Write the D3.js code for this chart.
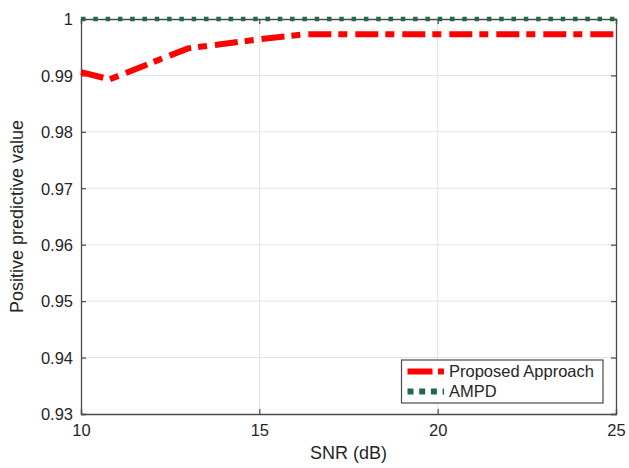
<!DOCTYPE html>
<html>
<head>
<meta charset="utf-8">
<script src="https://cdn.jsdelivr.net/npm/d3@7"></script>
<style>
  body { margin: 0; background: #fff; }
  text { font-family: "Liberation Sans", Arial, sans-serif; fill: #262626; }
</style>
</head>
<body>
<div id="chart"></div>
<script>
const snrProposed = [10, 10.8, 13, 15, 16.3, 25];
const ppvProposed = [0.9906, 0.9893, 0.9948, 0.9964, 0.9973, 0.9973];
const snrAmpd = [10, 25];
const ppvAmpd = [1, 1];
const xTicks = [10, 15, 20, 25];
const yTicks = [0.93, 0.94, 0.95, 0.96, 0.97, 0.98, 0.99, 1];
const seriesNames = ['Proposed Approach', 'AMPD'];

const width = 629;
const height = 468;
const margin = {top: 19, right: 13, bottom: 54, left: 81};

const xScale = d3.scaleLinear().domain([10, 25]).range([margin.left, width - margin.right]);
const yScale = d3.scaleLinear().domain([0.93, 1]).range([height - margin.bottom, margin.top]);

const svg = d3.select('#chart').append('svg')
  .attr('width', width)
  .attr('height', height);

// grid
svg.append('g').selectAll('line').data(xTicks.slice(1, -1))
  .enter().append('line')
  .attr('x1', d => xScale(d)).attr('x2', d => xScale(d))
  .attr('y1', margin.top).attr('y2', height - margin.bottom)
  .attr('stroke', '#e3e3e3').attr('stroke-width', 1);
svg.append('g').selectAll('line').data(yTicks.slice(1, -1))
  .enter().append('line')
  .attr('y1', d => yScale(d)).attr('y2', d => yScale(d))
  .attr('x1', margin.left).attr('x2', width - margin.right)
  .attr('stroke', '#e3e3e3').attr('stroke-width', 1);

// axes, ticks point inward
const axisColor = '#4a4a4a';
svg.append('g')
  .attr('transform', `translate(0,${height - margin.bottom})`)
  .call(d3.axisBottom(xScale).tickValues(xTicks).tickSize(-5).tickPadding(10).tickFormat(d3.format('d')));
const yAxis = svg.append('g')
  .attr('transform', `translate(${margin.left},0)`)
  .call(d3.axisLeft(yScale).tickValues(yTicks).tickSize(-5).tickPadding(8).tickFormat(d => d === 1 ? '1' : d3.format('.2f')(d)));
svg.append('g')
  .attr('transform', `translate(0,${margin.top})`)
  .call(d3.axisTop(xScale).tickValues(xTicks).tickSize(-5).tickFormat(''));
svg.append('g')
  .attr('transform', `translate(${width - margin.right},0)`)
  .call(d3.axisRight(yScale).tickValues(yTicks).tickSize(-5).tickFormat(''));

svg.selectAll('.domain').attr('stroke', axisColor).attr('stroke-width', 1.3);
svg.selectAll('.tick line').attr('stroke', axisColor).attr('stroke-width', 1.2);
svg.selectAll('.tick text').style('font-size', '16.5px').attr('fill', '#262626');
yAxis.selectAll('.tick text').attr('dy', '0.35em');

// lines
const line = d3.line().x(d => xScale(d[0])).y(d => yScale(d[1]));
const proposed = snrProposed.map((s, i) => [s, ppvProposed[i]]);
const ampd = snrAmpd.map((s, i) => [s, ppvAmpd[i]]);

svg.append('path').datum(proposed)
  .attr('d', line)
  .attr('fill', 'none')
  .attr('stroke', '#ff0000')
  .attr('stroke-width', 6)
  .attr('stroke-dasharray', '23 7 9 8');

svg.append('path').datum(ampd)
  .attr('d', line)
  .attr('fill', 'none')
  .attr('stroke', '#1f6a45')
  .attr('stroke-width', 4.5)
  .attr('stroke-dasharray', '4.5 7.8');

// axis labels
svg.append('text')
  .attr('x', (margin.left + width - margin.right) / 2)
  .attr('y', 459)
  .attr('text-anchor', 'middle')
  .style('font-size', '18px')
  .text('SNR (dB)');
svg.append('text')
  .attr('transform', `translate(23,${(margin.top + height - margin.bottom) / 2}) rotate(-90)`)
  .attr('text-anchor', 'middle')
  .style('font-size', '18px')
  .text('Positive predictive value');

// legend
const lg = svg.append('g');
lg.append('rect')
  .attr('x', 401.5).attr('y', 360)
  .attr('width', 201.5).attr('height', 43)
  .attr('fill', '#fff')
  .attr('stroke', axisColor).attr('stroke-width', 1.2);
const legendStyles = [
  {stroke: '#ff0000', w: 6, dash: '25 5.5 6 20'},
  {stroke: '#1f6a45', w: 6, dash: '6 5.7'}
];
seriesNames.forEach((name, i) => {
  const cy = 371.5 + i * 20;
  lg.append('line')
    .attr('x1', 407.5).attr('x2', 444)
    .attr('y1', cy).attr('y2', cy)
    .attr('stroke', legendStyles[i].stroke)
    .attr('stroke-width', legendStyles[i].w)
    .attr('stroke-dasharray', legendStyles[i].dash);
  lg.append('text')
    .attr('x', 449).attr('y', cy)
    .attr('dy', '0.35em')
    .style('font-size', '16.5px')
    .text(name);
});
</script>
</body>
</html>
